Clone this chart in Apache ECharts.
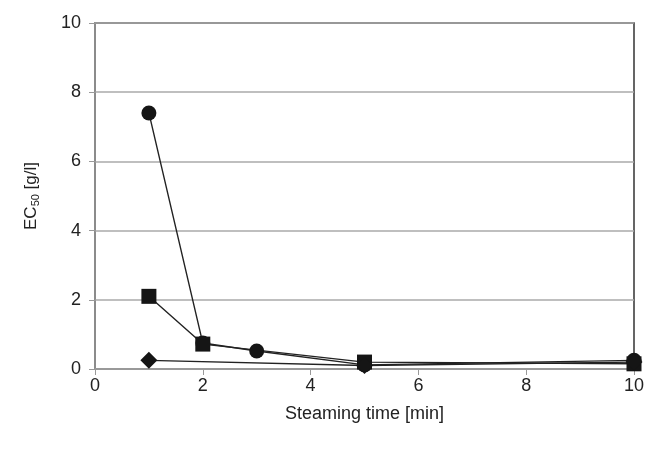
<!DOCTYPE html>
<html>
<head>
<meta charset="utf-8">
<script src="https://cdn.jsdelivr.net/npm/echarts@6/dist/echarts.min.js"></script>
<style>
  html, body { margin: 0; padding: 0; background: #fff; }
  #main { width: 654px; height: 452px; }
</style>
</head>
<body>
<div id="main"></div>
<script>
// values
const circleX = [1, 2, 3, 5, 10];
const circleY = [7.4, 0.75, 0.52, 0.12, 0.25];
const squareX = [1, 2, 5, 10];
const squareY = [2.1, 0.72, 0.2, 0.15];
const diamondX = [1, 5, 10];
const diamondY = [0.25, 0.1, 0.2];

const pairs = (xs, ys) => xs.map((x, i) => [x, ys[i]]);

const chart = echarts.init(document.getElementById('main'));

const lineSeries = (data, symbol, size) => ({
    type: 'line',
    data: data,
    symbol: symbol,
    symbolSize: size,
    lineStyle: { color: '#222', width: 1.4 },
    itemStyle: { color: '#151515' },
    animation: false
});

chart.setOption({
    backgroundColor: '#fff',
    textStyle: { fontFamily: 'Liberation Sans, Arial, sans-serif' },
    grid: {
        left: 95,
        right: 20,
        top: 23,
        bottom: 83,
        show: true,
        borderColor: '#333',
        borderWidth: 1.5
    },
    xAxis: {
        type: 'value',
        min: 0,
        max: 10,
        interval: 2,
        name: 'Steaming time [min]',
        nameLocation: 'middle',
        nameGap: 36,
        nameTextStyle: { color: '#222', fontSize: 18 },
        axisLine: { show: true, lineStyle: { color: '#999', width: 1.5 } },
        axisTick: { show: true, length: 6, lineStyle: { color: '#999' } },
        axisLabel: { color: '#222', fontSize: 18, margin: 8 },
        splitLine: { show: false }
    },
    yAxis: {
        type: 'value',
        min: 0,
        max: 10,
        interval: 2,
        name: '{n|EC}{s|50}{n| [g/l]}',
        nameLocation: 'middle',
        nameGap: 54,
        nameRotate: 90,
        nameTextStyle: {
            rich: {
                n: { color: '#222', fontSize: 17 },
                s: { color: '#222', fontSize: 11, padding: [8, 0, 0, 0] }
            }
        },
        axisLine: { show: true, lineStyle: { color: '#999', width: 1.5 } },
        axisTick: { show: true, length: 6, lineStyle: { color: '#999' } },
        axisLabel: { color: '#222', fontSize: 18, margin: 14 },
        splitLine: { show: true, lineStyle: { color: '#aaa', width: 1.5 } }
    },
    series: [
        lineSeries(pairs(circleX, circleY), 'circle', 15),
        lineSeries(pairs(squareX, squareY), 'rect', 15),
        lineSeries(pairs(diamondX, diamondY), 'diamond', 17)
    ]
});
</script>
</body>
</html>
